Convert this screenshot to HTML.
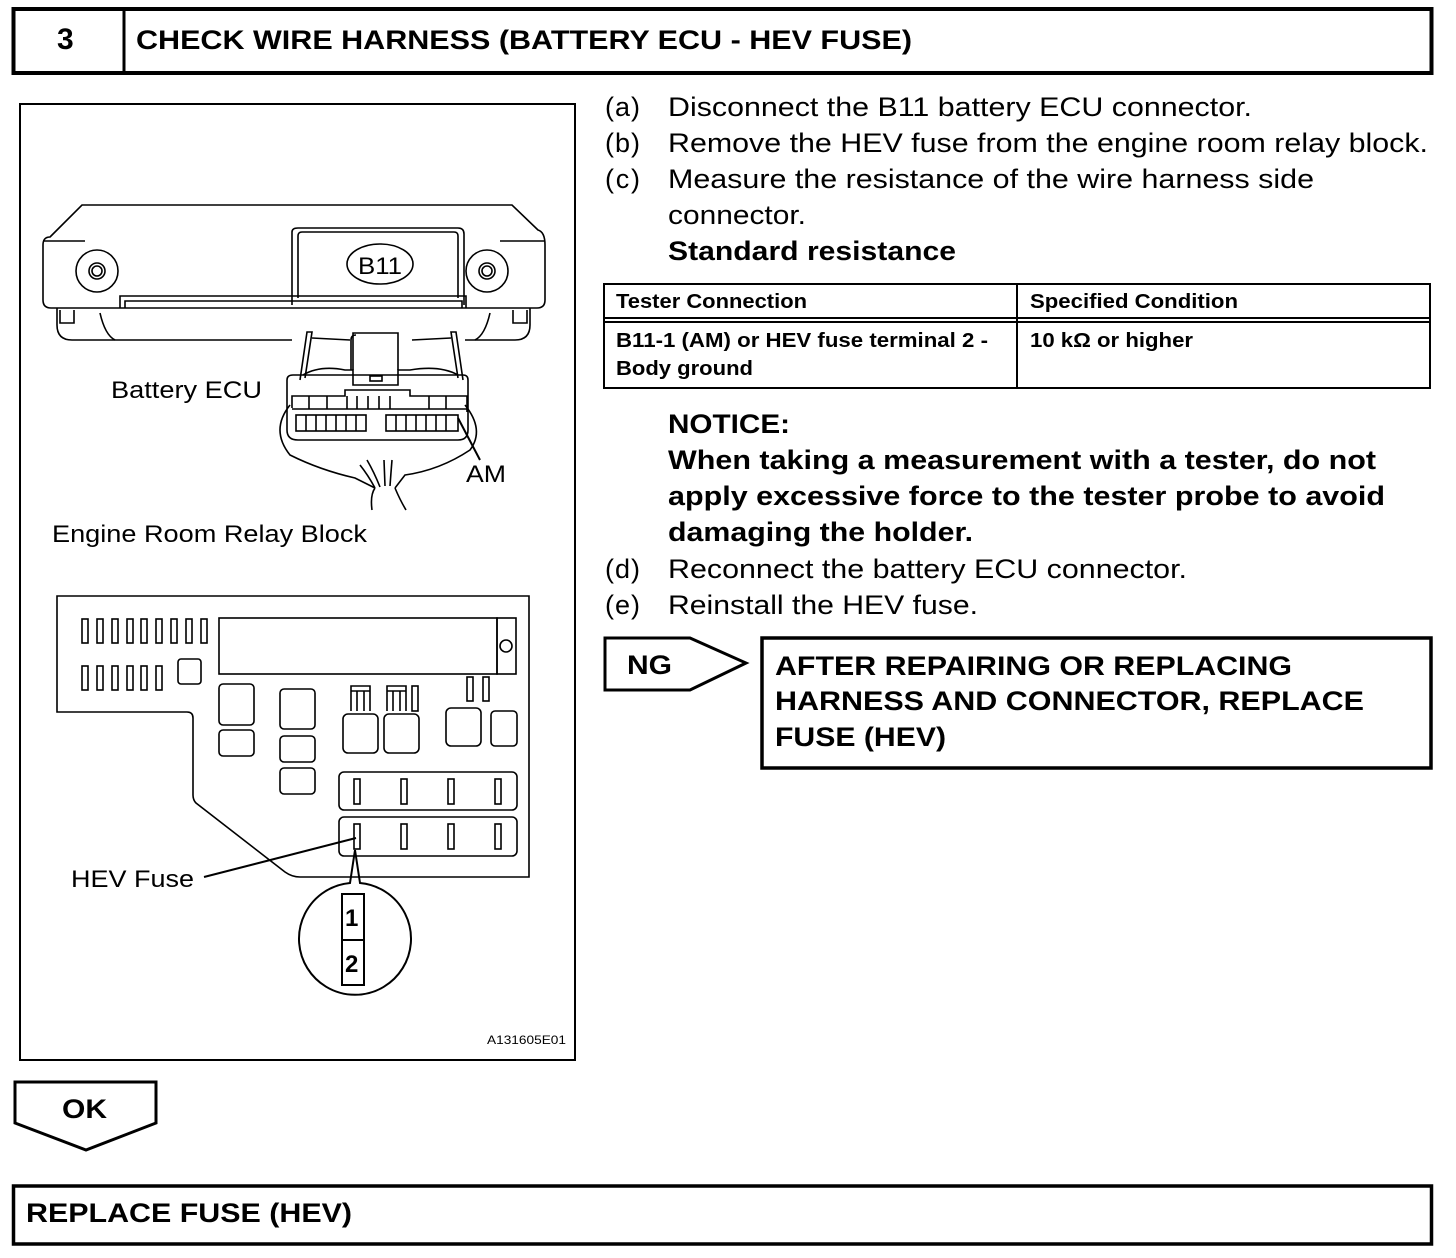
<!DOCTYPE html>
<html><head><meta charset="utf-8"><style>
html,body{margin:0;padding:0;background:#fff;}
svg{display:block;}
text{font-family:"Liberation Sans",Arial,sans-serif;fill:#000;}
.b{font-weight:bold;}
</style></head><body>
<svg width="1456" height="1258" viewBox="0 0 1456 1258" xmlns="http://www.w3.org/2000/svg">
<g fill="none" stroke="#000">
<rect x="13.5" y="9" width="1418" height="64" stroke-width="4"/>
<line x1="124" y1="9" x2="124" y2="73" stroke-width="3"/>
<rect x="20" y="104" width="555" height="956" stroke-width="2"/>
<rect x="604" y="284" width="826" height="104" stroke-width="2"/>
<line x1="604" y1="318" x2="1430" y2="318" stroke-width="2"/>
<line x1="604" y1="322" x2="1430" y2="322" stroke-width="2"/>
<line x1="1017" y1="284" x2="1017" y2="388" stroke-width="2"/>
<polygon points="605,638 690,638 746,663 690,690 605,690" stroke-width="3"/>
<rect x="762" y="638" width="669" height="130" stroke-width="3.5"/>
<polygon points="15,1082 156,1082 156,1123 86,1150 15,1123" stroke-width="3"/>
<rect x="13.5" y="1186" width="1418" height="58" stroke-width="3.5"/>
</g>

<g fill="none" stroke="#000" stroke-width="1.6">
<path d="M50,237 L82,205 L512,205 L538,230 Q545,232 545,245 L545,300 Q545,308 537,308 L51,308 Q43,308 43,300 L43,245 Q43,237 50,237 Z"/>
<line x1="43" y1="241" x2="85" y2="241"/>
<line x1="500" y1="241" x2="545" y2="241"/>
<path d="M292,305 L292,232 Q292,228 298,228 L458,228 Q464,228 464,234 L464,305"/>
<path d="M298,298 L298,236 Q298,232 302,232 L454,232 Q458,232 458,236 L458,298"/>
<path d="M120,308 L120,296 L466,296 L466,308"/>
<path d="M125,308 L125,301 L462,301 L462,308"/>
<ellipse cx="380" cy="264" rx="33" ry="20"/>
<circle cx="97" cy="271" r="21"/><circle cx="97" cy="271" r="8"/><circle cx="97" cy="271" r="5"/>
<circle cx="487" cy="271" r="21"/><circle cx="487" cy="271" r="8"/><circle cx="487" cy="271" r="5"/>
<path d="M57,308 L57,325 Q57,340 72,340 L292,340"/>
<path d="M530,308 L530,325 Q530,340 515,340 L465,340"/>
<path d="M60,310 L60,323 L74,323 L74,310"/><path d="M513,310 L513,323 L527,323 L527,310"/>
<path d="M100,313 Q105,335 115,340"/><path d="M490,313 Q485,335 475,340"/>
<path d="M300,380 L307,332 L312,332 L305,378"/>
<path d="M463,380 L456,332 L451,332 L458,378"/>
<path d="M312,338 L350,340 M412,340 L451,338"/>
<path d="M353,370 L353,333 L398,333 L398,370"/>
<path d="M351,370 L351,340 Q351,335 356,335"/>
<path d="M303,375 Q320,365 345,370 L353,370 L353,385 L398,385 L398,370 L410,370 Q440,365 458,375"/>
<rect x="370" y="376" width="12" height="5"/>
<path d="M287,380 Q287,375 293,375 L463,375 Q468,375 468,380 L468,430 Q468,440 458,440 L298,440 Q287,440 287,430 Z"/>
<path d="M292,408 L292,396 L345,396 L345,390 L410,390 L410,396 L467,396 L467,412"/>
<line x1="292" y1="409" x2="467" y2="409"/>
<line x1="309" y1="396" x2="309" y2="409"/><line x1="327" y1="396" x2="327" y2="409"/>
<line x1="347" y1="396" x2="347" y2="409"/><line x1="357" y1="396" x2="357" y2="409"/>
<line x1="368" y1="396" x2="368" y2="409"/><line x1="379" y1="396" x2="379" y2="409"/>
<line x1="390" y1="396" x2="390" y2="409"/><line x1="429" y1="396" x2="429" y2="409"/>
<line x1="446" y1="396" x2="446" y2="409"/>
<rect x="296" y="415" width="70" height="16"/>
<line x1="306" y1="415" x2="306" y2="431"/><line x1="316" y1="415" x2="316" y2="431"/><line x1="326" y1="415" x2="326" y2="431"/><line x1="336" y1="415" x2="336" y2="431"/><line x1="346" y1="415" x2="346" y2="431"/><line x1="356" y1="415" x2="356" y2="431"/>
<rect x="386" y="415" width="72" height="16"/>
<line x1="396" y1="415" x2="396" y2="431"/><line x1="406" y1="415" x2="406" y2="431"/><line x1="416" y1="415" x2="416" y2="431"/><line x1="426" y1="415" x2="426" y2="431"/><line x1="436" y1="415" x2="436" y2="431"/><line x1="446" y1="415" x2="446" y2="431"/>
<path d="M290,405 Q270,430 290,455 Q320,470 355,478 L375,488"/>
<path d="M465,405 Q485,430 470,450 Q440,470 405,475 L395,488"/>
<path d="M375,488 Q370,495 372,510 M395,488 Q400,500 406,510"/>
<path d="M360,465 Q368,475 375,488 M367,460 Q374,472 380,487 M384,460 L385,486 M392,460 Q391,472 390,486"/>
<line x1="458" y1="418" x2="480" y2="460" stroke-width="2"/>
</g>
<text x="111" y="398" font-size="24" textLength="151" lengthAdjust="spacingAndGlyphs">Battery ECU</text>
<text x="358" y="274" font-size="24" textLength="44" lengthAdjust="spacingAndGlyphs">B11</text>
<text x="466" y="482" font-size="24" textLength="40" lengthAdjust="spacingAndGlyphs">AM</text>
<text x="52" y="542" font-size="24" textLength="315" lengthAdjust="spacingAndGlyphs">Engine Room Relay Block</text>

<g fill="none" stroke="#000" stroke-width="1.6">
<path d="M57,596 L529,596 L529,877 L300,877 Q292,877 285,872 L196,803 Q193,800 193,795 L193,718 Q193,712 187,712 L57,712 Z"/>
<g>
<rect x="82" y="619" width="6" height="24"/><rect x="97" y="619" width="6" height="24"/><rect x="112" y="619" width="6" height="24"/><rect x="127" y="619" width="6" height="24"/><rect x="141" y="619" width="6" height="24"/><rect x="156" y="619" width="6" height="24"/><rect x="171" y="619" width="6" height="24"/><rect x="186" y="619" width="6" height="24"/><rect x="201" y="619" width="6" height="24"/>
<rect x="82" y="666" width="6" height="24"/><rect x="97" y="666" width="6" height="24"/><rect x="112" y="666" width="6" height="24"/><rect x="127" y="666" width="6" height="24"/><rect x="141" y="666" width="6" height="24"/><rect x="156" y="666" width="6" height="24"/>
</g>
<rect x="178" y="659" width="23" height="25" rx="3"/>
<rect x="219" y="618" width="278" height="56"/>
<rect x="497" y="618" width="19" height="56"/>
<circle cx="506" cy="646" r="6"/>
<rect x="219" y="684" width="35" height="41" rx="4"/>
<rect x="219" y="730" width="35" height="26" rx="4"/>
<rect x="280" y="689" width="35" height="40" rx="4"/>
<rect x="280" y="736" width="35" height="26" rx="4"/>
<rect x="280" y="768" width="35" height="26" rx="4"/>
<rect x="343" y="714" width="35" height="39" rx="5"/>
<rect x="384" y="714" width="35" height="39" rx="5"/>
<rect x="446" y="708" width="35" height="38" rx="5"/>
<rect x="491" y="711" width="26" height="35" rx="4"/>
<path d="M351,711 L351,686 L370,686 L370,711 M357,711 L357,691 L364,691 L364,711 M351,691 L370,691"/>
<path d="M387,711 L387,686 L406,686 L406,711 M393,711 L393,691 L400,691 L400,711 M387,691 L406,691"/>
<rect x="412" y="686" width="6" height="25"/>
<rect x="467" y="677" width="6" height="24"/><rect x="483" y="677" width="6" height="24"/>
<rect x="339" y="772" width="178" height="38" rx="5"/>
<rect x="339" y="817" width="178" height="39" rx="5"/>
<rect x="354" y="779" width="6" height="25"/><rect x="401" y="779" width="6" height="25"/><rect x="448" y="779" width="6" height="25"/><rect x="495" y="779" width="6" height="25"/>
<rect x="354" y="824" width="6" height="25"/><rect x="401" y="824" width="6" height="25"/><rect x="448" y="824" width="6" height="25"/><rect x="495" y="824" width="6" height="25"/>
<line x1="204" y1="877" x2="356" y2="838" stroke-width="2"/>
<path d="M350,883 L355,850 L360,883 A56,56 0 1 1 350,883 Z" stroke-width="2"/>
<rect x="342" y="894" width="22" height="46" stroke-width="2"/>
<rect x="342" y="940" width="22" height="45" stroke-width="2"/>
</g>
<text x="71" y="887" font-size="24" textLength="123" lengthAdjust="spacingAndGlyphs">HEV Fuse</text>
<text x="345" y="926" font-size="24" class="b">1</text>
<text x="345" y="972" font-size="24" class="b">2</text>
<text x="487" y="1044" font-size="12" textLength="79" lengthAdjust="spacingAndGlyphs">A131605E01</text>

<text x="57" y="49" font-size="30" class="b">3</text>
<text x="136" y="49" font-size="27" class="b" textLength="776" lengthAdjust="spacingAndGlyphs">CHECK WIRE HARNESS (BATTERY ECU - HEV FUSE)</text>

<g font-size="27">
<text x="605" y="116" textLength="35">(a)</text><text x="668" y="116" textLength="584" lengthAdjust="spacingAndGlyphs">Disconnect the B11 battery ECU connector.</text>
<text x="605" y="152" textLength="35">(b)</text><text x="668" y="152" textLength="760" lengthAdjust="spacingAndGlyphs">Remove the HEV fuse from the engine room relay block.</text>
<text x="605" y="188" textLength="35">(c)</text><text x="668" y="188" textLength="646" lengthAdjust="spacingAndGlyphs">Measure the resistance of the wire harness side</text>
<text x="668" y="224" textLength="138" lengthAdjust="spacingAndGlyphs">connector.</text>
<text x="668" y="260" class="b" textLength="288" lengthAdjust="spacingAndGlyphs">Standard resistance</text>
<text x="668" y="433" class="b" textLength="122" lengthAdjust="spacingAndGlyphs">NOTICE:</text>
<text x="668" y="469" class="b" textLength="708" lengthAdjust="spacingAndGlyphs">When taking a measurement with a tester, do not</text>
<text x="668" y="505" class="b" textLength="717" lengthAdjust="spacingAndGlyphs">apply excessive force to the tester probe to avoid</text>
<text x="668" y="541" class="b" textLength="305" lengthAdjust="spacingAndGlyphs">damaging the holder.</text>
<text x="605" y="578" textLength="35">(d)</text><text x="668" y="578" textLength="519" lengthAdjust="spacingAndGlyphs">Reconnect the battery ECU connector.</text>
<text x="605" y="614" textLength="35">(e)</text><text x="668" y="614" textLength="310" lengthAdjust="spacingAndGlyphs">Reinstall the HEV fuse.</text>
</g>
<g font-size="20" class="b">
<text x="616" y="308" textLength="191" lengthAdjust="spacingAndGlyphs">Tester Connection</text>
<text x="1030" y="308" textLength="208" lengthAdjust="spacingAndGlyphs">Specified Condition</text>
<text x="616" y="347" textLength="372" lengthAdjust="spacingAndGlyphs">B11-1 (AM) or HEV fuse terminal 2 -</text>
<text x="616" y="375" textLength="137" lengthAdjust="spacingAndGlyphs">Body ground</text>
<text x="1030" y="347" textLength="163" lengthAdjust="spacingAndGlyphs">10 kΩ or higher</text>
</g>
<g font-size="27" class="b">
<text x="627" y="674" textLength="45" lengthAdjust="spacingAndGlyphs">NG</text>
<text x="775" y="675" textLength="517" lengthAdjust="spacingAndGlyphs">AFTER REPAIRING OR REPLACING</text>
<text x="775" y="710" textLength="589" lengthAdjust="spacingAndGlyphs">HARNESS AND CONNECTOR, REPLACE</text>
<text x="775" y="746" textLength="171" lengthAdjust="spacingAndGlyphs">FUSE (HEV)</text>
<text x="62" y="1118" textLength="45" lengthAdjust="spacingAndGlyphs">OK</text>
<text x="26" y="1222" textLength="326" lengthAdjust="spacingAndGlyphs">REPLACE FUSE (HEV)</text>
</g>
</svg>
</body></html>
